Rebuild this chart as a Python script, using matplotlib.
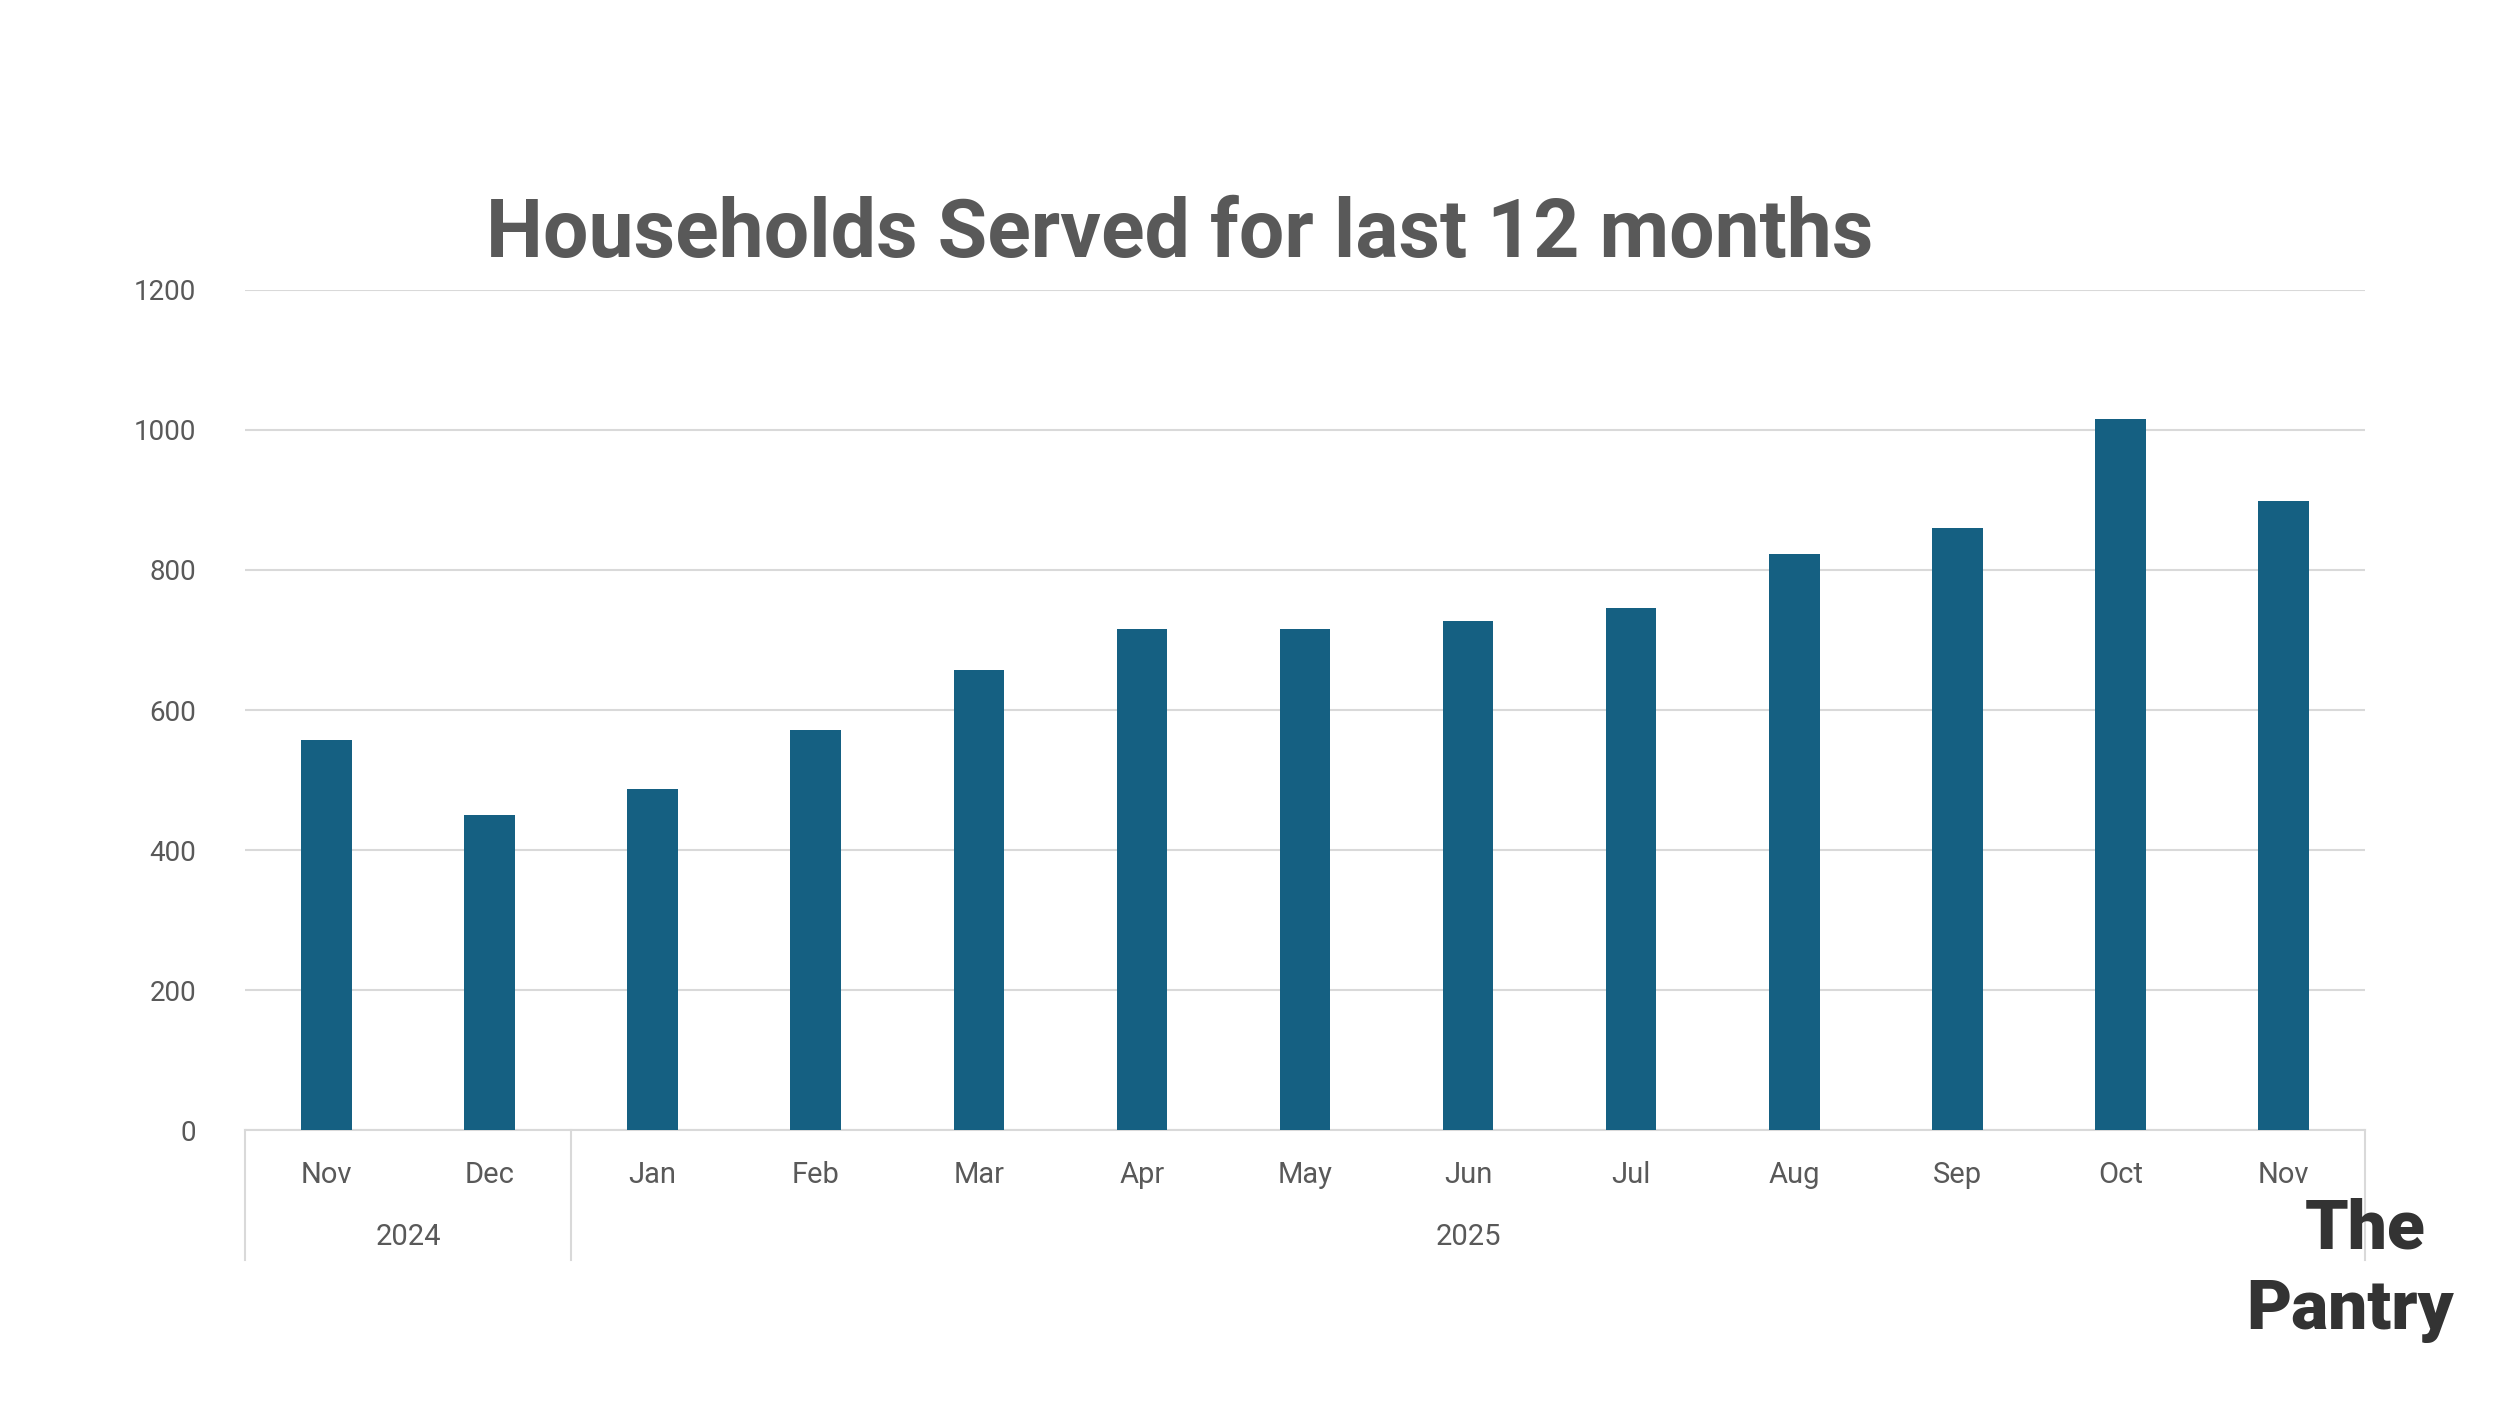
import matplotlib.pyplot as plt

plt.rcParams['font.family'] = ['Roboto', 'DejaVu Sans']

months = ['Nov', 'Dec', 'Jan', 'Feb', 'Mar', 'Apr', 'May', 'Jun', 'Jul', 'Aug', 'Sep', 'Oct', 'Nov']
households = [557, 450, 488, 571, 657, 715, 715, 727, 745, 823, 860, 1015, 899]
years = ['2024', '2025']
year_counts = [2, 11]

fig = plt.figure(figsize=(25, 14.06), dpi=100)
ax = fig.add_axes([0.098, 0.196, 0.848, 0.598])
x = range(len(months))
ax.bar(x, households, width=0.31, color='#156082', zorder=3)
ax.set_xlim(-0.5, len(months) - 0.5)
ax.set_ylim(0, 1200)
ax.set_yticks(range(0, 1201, 200))
ax.grid(axis='y', color='#d9d9d9', linewidth=1.5, zorder=0)
for s in ['top', 'right', 'left']:
    ax.spines[s].set_visible(False)
ax.spines['bottom'].set_color('#d9d9d9')
ax.spines['bottom'].set_linewidth(1.5)
ax.tick_params(axis='y', length=0, labelsize=20, labelcolor='#595959', pad=35)
ax.set_xticks(list(x))
ax.set_xticklabels(months)
ax.tick_params(axis='x', length=0, labelsize=21, labelcolor='#595959', pad=22)

# year group labels and separators
trans = ax.get_xaxis_transform()
start = -0.5
for yr, n in zip(years, year_counts):
    ax.text(start + n / 2, -0.127, yr, transform=trans, ha='center', va='center',
            fontsize=21, color='#595959')
    start += n
bounds = [-0.5, 1.5, len(months) - 0.5]
for b in bounds:
    ax.plot([b, b], [0, -0.154], transform=trans, color='#d9d9d9', lw=1.5, clip_on=False)

fig.text(0.472, 0.833, 'Households Served for last 12 months', ha='center', va='center',
         fontsize=58, fontweight='bold', color='#595959')

# logo text
fig.text(0.946, 0.125, 'The', ha='center', va='center', fontsize=50,
         fontweight='black', color='#333333')
fig.text(0.94, 0.068, 'Pantry', ha='center', va='center', fontsize=50,
         fontweight='black', color='#333333')

fig.savefig('out.png', dpi=100)
